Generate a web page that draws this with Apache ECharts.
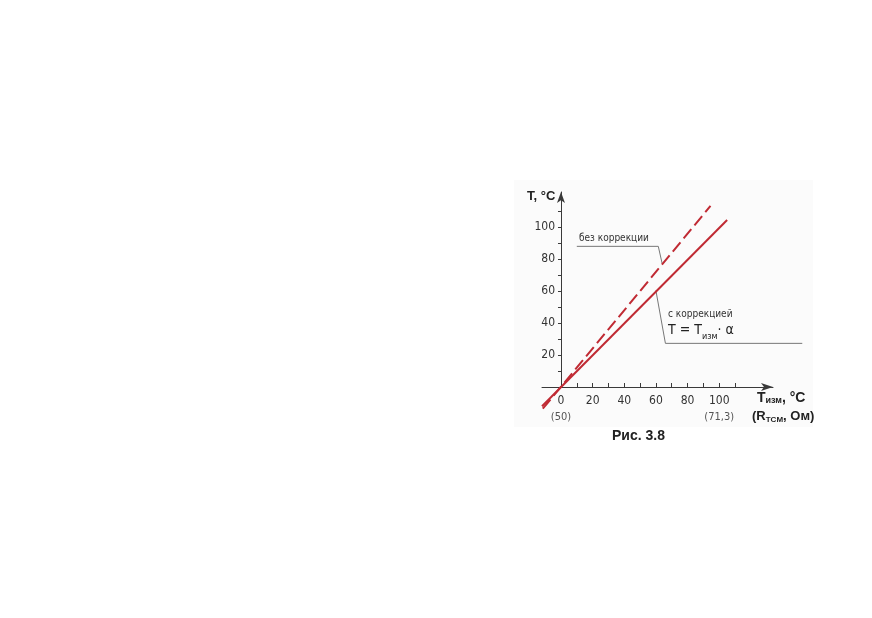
<!DOCTYPE html>
<html>
<head>
<meta charset="utf-8">
<script src="https://cdn.jsdelivr.net/npm/echarts@6/dist/echarts.min.js"></script>
<style>
html,body{margin:0;padding:0;background:#fff;}
#chart{width:872px;height:618px;}
</style>
</head>
<body>
<div id="chart"></div>
<script>
// ---- data ----
const xLabelValues = [0, 20, 40, 60, 80, 100];
const xSubLabels   = ['(50)', '', '', '', '', '(71,3)'];
const yLabelValues = [20, 40, 60, 80, 100];
const xTickValues  = [0, 10, 20, 30, 40, 50, 60, 70, 80, 90, 100, 110];
const yTickValues  = [10, 20, 30, 40, 50, 60, 70, 80, 90, 100, 110];
const solidLine    = [[-12, -12], [105, 104.5]];      // с коррекцией
const dashedLine   = [[-11.5, -13.6], [94.5, 113.3]];  // без коррекции
const leaderNoCorr = [[10, 88], [61.5, 88], [64, 77]];
const leaderCorr   = [[60, 60.3], [66, 27.3], [152.5, 27.3]];

const RED = '#c02a33';
const AX = '#3a3a3a';
const FAM = '"DejaVu Sans",sans-serif';
const BOLD = '"Liberation Sans",Arial,sans-serif';

const chart = echarts.init(document.getElementById('chart'), null, {renderer: 'canvas'});

const option = {
  animation: false,
  backgroundColor: '#ffffff',
  grid: {left: 542, top: 192, width: 231, height: 195, containLabel: false},
  xAxis: {
    type: 'value', min: -12, max: 134,
    splitLine: {show: false},
    axisLine: {onZero: true, lineStyle: {color: AX, width: 1}, symbol: ['none', 'arrow'], symbolSize: [6, 12]},
    axisTick: {show: true, inside: true, length: 4, lineStyle: {color: AX}, customValues: xTickValues},
    axisLabel: {
      customValues: xLabelValues,
      margin: 5,
      formatter: function (v) {
        const i = xLabelValues.indexOf(v);
        const sub = i >= 0 ? xSubLabels[i] : '';
        return sub ? '{a|' + v + '}\n{b|' + sub + '}' : '{a|' + v + '}';
      },
      rich: {
        a: {fontFamily: FAM, fontStyle: 'condensed', fontSize: 12, color: '#333', lineHeight: 17, align: 'center'},
        b: {fontFamily: FAM, fontStyle: 'condensed', fontSize: 11, color: '#555', lineHeight: 17, align: 'center'}
      }
    }
  },
  yAxis: {
    type: 'value', min: 0, max: 122,
    splitLine: {show: false},
    axisLine: {onZero: true, lineStyle: {color: AX, width: 1}, symbol: ['none', 'arrow'], symbolSize: [6, 11]},
    axisTick: {show: true, inside: false, length: 3, lineStyle: {color: AX}, customValues: yTickValues},
    axisLabel: {
      customValues: yLabelValues,
      margin: -13,
      fontFamily: FAM, fontStyle: 'condensed', fontSize: 12, color: '#333'
    }
  },
  series: [
    {
      name: 'без коррекции', type: 'line', data: dashedLine, clip: false,
      symbol: 'none', z: 3,
      lineStyle: {color: RED, width: 2, type: [12, 5]}
    },
    {
      name: 'с коррекцией', type: 'line', data: solidLine, clip: false,
      symbol: 'none', z: 3,
      lineStyle: {color: RED, width: 2}
    }
  ],
  graphic: [
    {type: 'rect', z: -10, shape: {x: 514, y: 180, width: 299, height: 247}, style: {fill: '#fbfbfb'}},
    {type: 'text', left: 527, top: 190, style: {text: 'T, °C', font: 'bold 13px ' + BOLD, fill: '#222'}},
    {type: 'text', left: 579, top: 233, style: {text: 'без коррекции', font: 'condensed 10px ' + FAM, fill: '#333'}},
    {type: 'text', left: 668, top: 309, style: {text: 'с коррекцией', font: 'condensed 10px ' + FAM, fill: '#333'}},
    {type: 'text', left: 668, top: 323, style: {
      text: '{m|T = T}{s|изм}{m|· α}',
      rich: {
        m: {fontFamily: FAM, fontStyle: 'condensed', fontSize: 14, fill: '#222', verticalAlign: 'bottom'},
        s: {fontFamily: FAM, fontStyle: 'condensed', fontSize: 9, fill: '#222', verticalAlign: 'bottom', padding: [0, 0, -4, 0]}
      }
    }},
    {type: 'text', left: 757, top: 391, style: {
      text: '{m|T}{s|изм}{m|, °C}',
      rich: {
        m: {fontFamily: BOLD, fontWeight: 'bold', fontSize: 14, fill: '#222'},
        s: {fontFamily: BOLD, fontWeight: 'bold', fontSize: 9, fill: '#222', padding: [6, 0, 0, 0]}
      }
    }},
    {type: 'text', left: 752, top: 410, style: {
      text: '{m|(R}{s|TCM}{m|, Ом)}',
      rich: {
        m: {fontFamily: BOLD, fontWeight: 'bold', fontSize: 13, fill: '#222'},
        s: {fontFamily: BOLD, fontWeight: 'bold', fontSize: 8, fill: '#222', padding: [6, 0, 0, 0]}
      }
    }},
    {type: 'text', left: 612, top: 429, style: {text: 'Рис. 3.8', font: 'bold 14px ' + BOLD, fill: '#222'}}
  ]
};
chart.setOption(option);

// leader lines for the annotations, placed through the chart's own coordinate system
function toPx(pts) { return pts.map(p => chart.convertToPixel({gridIndex: 0}, p)); }
chart.setOption({
  graphic: option.graphic.concat([
    {type: 'polyline', z: 1, shape: {points: toPx(leaderNoCorr)}, style: {stroke: '#777', lineWidth: 1, fill: null}},
    {type: 'polyline', z: 1, shape: {points: toPx(leaderCorr)}, style: {stroke: '#777', lineWidth: 1, fill: null}}
  ])
});
</script>
</body>
</html>
